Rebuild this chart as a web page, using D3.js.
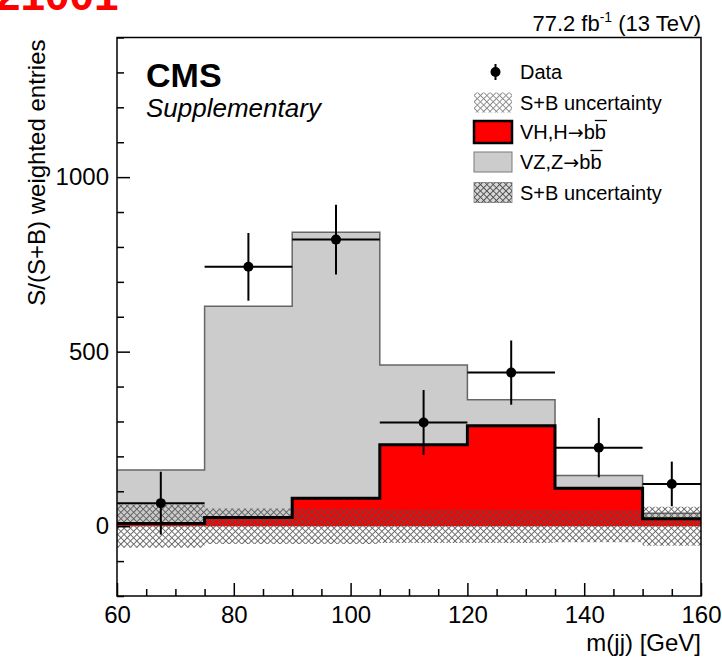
<!DOCTYPE html>
<html>
<head>
<meta charset="utf-8">
<script src="https://cdn.jsdelivr.net/npm/d3@7"></script>
<style>
  html, body { margin: 0; padding: 0; background: #fff; }
  svg { display: block; font-family: "Liberation Sans", Arial, Helvetica, sans-serif; }
</style>
</head>
<body>
<svg id="chart" width="722" height="660"></svg>
<script>
// ---- data ----
const binEdges   = [60, 75, 90, 105, 120, 135, 150, 160];
const dataValues = [66, 743, 821, 297, 440, 225, 121];
const dataErrors = [90, 97, 100, 93, 92, 85, 64];
const vhValues   = [8, 25, 80, 233, 288, 109, 21];     // VH, H->bb (signal)
const vzValues   = [153, 605, 762, 229, 74, 36, 16];   // VZ, Z->bb stacked on VH
const uncValues  = [62, 51, 51, 48, 48, 46, 56];       // S+B uncertainty half-width around 0
const xTicks     = [60, 80, 100, 120, 140, 160];
const xMinorTicks = d3.range(60, 161, 5).filter(v => v % 20 !== 0);
const yTicks     = [0, 500, 1000];
const yMinorTicks = d3.range(-200, 1401, 100).filter(v => v % 500 !== 0);
const legendLabels = ["Data", "S+B uncertainty", ["VH,H", "b"], ["VZ,Z", "b"], "S+B uncertainty"];

// ---- layout ----
const svg = d3.select("#chart");
const L = 117, R = 701, T = 37.5, B = 596;
const x = d3.scaleLinear().domain([60, 160]).range([L, R]);
const y = d3.scaleLinear().domain([-200, 1400]).range([B, T]);

const defs = svg.append("defs");
defs.append("clipPath").attr("id", "plotclip")
  .append("rect").attr("x", L).attr("y", T).attr("width", R - L).attr("height", B - T);

function hatch(id, color, width) {
  const s = 4.5;
  const p = defs.append("pattern").attr("id", id)
    .attr("patternUnits", "userSpaceOnUse")
    .attr("width", s).attr("height", s)
    .attr("patternTransform", "rotate(45)");
  p.append("path").attr("d", `M0,${s / 2} H${s} M${s / 2},0 V${s}`)
    .attr("stroke", color).attr("stroke-width", width).attr("fill", "none");
}
hatch("hatchDark", "#505050", 1.0);
hatch("hatchLight", "#8c8c8c", 1.0);

// step points helper
function stepPoints(vals) {
  const pts = [];
  vals.forEach((v, i) => { pts.push({e: binEdges[i], v}); pts.push({e: binEdges[i + 1], v}); });
  return pts;
}
const totals = vhValues.map((v, i) => v + vzValues[i]);

const plot = svg.append("g").attr("clip-path", "url(#plotclip)");

// VZ (stacked total) gray
plot.append("path")
  .datum(stepPoints(totals))
  .attr("d", d3.area().x(d => x(d.e)).y0(y(0)).y1(d => y(d.v)))
  .attr("fill", "#cccccc");
plot.append("path")
  .datum(stepPoints(totals))
  .attr("d", d3.line().x(d => x(d.e)).y(d => y(d.v)))
  .attr("fill", "none").attr("stroke", "#666").attr("stroke-width", 1.5);

// VH red
plot.append("path")
  .datum(stepPoints(vhValues))
  .attr("d", d3.area().x(d => x(d.e)).y0(y(0)).y1(d => y(d.v)))
  .attr("fill", "#ff0000");

// uncertainty band around 0
plot.append("path")
  .datum(stepPoints(uncValues))
  .attr("d", d3.area().x(d => x(d.e)).y0(d => y(-d.v)).y1(d => y(d.v)))
  .attr("fill", "url(#hatchDark)").attr("opacity", 0.85);

// VH outline (thick black)
plot.append("path")
  .datum(stepPoints(vhValues))
  .attr("d", d3.line().x(d => x(d.e)).y(d => y(d.v)))
  .attr("fill", "none").attr("stroke", "#000").attr("stroke-width", 3);

// data points
const dg = plot.append("g");
dataValues.forEach((v, i) => {
  const g = dg.append("g");
  const cx = x((binEdges[i] + binEdges[i + 1]) / 2);
  g.append("line")
    .attr("x1", x(binEdges[i])).attr("x2", x(binEdges[i + 1]))
    .attr("y1", y(v)).attr("y2", y(v))
    .attr("stroke", "#000").attr("stroke-width", 2);
  g.append("line")
    .attr("x1", cx).attr("x2", cx)
    .attr("y1", y(v - dataErrors[i])).attr("y2", y(v + dataErrors[i]))
    .attr("stroke", "#000").attr("stroke-width", 2);
  g.append("circle").attr("cx", cx).attr("cy", y(v)).attr("r", 5).attr("fill", "#000");
});

// ---- axes ----
const xAxis = svg.append("g").attr("transform", `translate(0,${B})`)
  .call(d3.axisBottom(x).tickValues(xTicks).tickSizeInner(-13).tickSizeOuter(0).tickPadding(10).tickFormat(d3.format("d")));
const xMinor = svg.append("g").attr("transform", `translate(0,${B})`)
  .call(d3.axisBottom(x).tickValues(xMinorTicks).tickSizeInner(-7).tickSizeOuter(0).tickFormat(""));
const yAxis = svg.append("g").attr("transform", `translate(${L},0)`)
  .call(d3.axisLeft(y).tickValues(yTicks).tickSizeInner(-13).tickSizeOuter(0).tickPadding(8).tickFormat(d3.format("d")));
const yMinor = svg.append("g").attr("transform", `translate(${L},0)`)
  .call(d3.axisLeft(y).tickValues(yMinorTicks).tickSizeInner(-7).tickSizeOuter(0).tickFormat(""));
[xAxis, xMinor, yAxis, yMinor].forEach(a => {
  a.select(".domain").remove();
  a.selectAll(".tick line").attr("stroke", "#000").attr("stroke-width", 1.5);
  a.selectAll(".tick text").attr("font-size", 24).attr("fill", "#000")
    .attr("font-family", "'Liberation Sans', Arial, Helvetica, sans-serif");
});

// frame
svg.append("rect").attr("x", L).attr("y", T).attr("width", R - L).attr("height", B - T)
  .attr("fill", "none").attr("stroke", "#000").attr("stroke-width", 1.5);

// axis titles
svg.append("text").attr("x", R).attr("y", 651).attr("text-anchor", "end")
  .attr("font-size", 24).text("m(jj) [GeV]");
svg.append("text").attr("transform", `translate(45,${T + 2}) rotate(-90)`)
  .attr("text-anchor", "end").attr("font-size", 24).text("S/(S+B) weighted entries");

// top right lumi text
const lumi = svg.append("text").attr("x", R).attr("y", 31).attr("text-anchor", "end").attr("font-size", 22);
lumi.append("tspan").text("77.2 fb");
lumi.append("tspan").attr("font-size", 14).attr("dy", -9).text("-1");
lumi.append("tspan").attr("dy", 9).text(" (13 TeV)");

// red label at top-left, mostly above the page edge as in the reference
svg.append("text").attr("x", -4).attr("y", 10).attr("font-size", 44).attr("font-weight", "bold")
  .attr("fill", "#ff0000").text("21001");

// CMS label
svg.append("text").attr("x", 146).attr("y", 87).attr("font-size", 34).attr("font-weight", "bold").text("CMS");
svg.append("text").attr("x", 146).attr("y", 117).attr("font-size", 26).attr("font-style", "italic").text("Supplementary");

// ---- legend ----
const leg = svg.append("g");
const rowY = [72, 102.5, 132, 162, 192.5];
const bx = 474, bw = 38, bh = 20, tx = 520;
// Data
leg.append("line").attr("x1", 495.5).attr("x2", 495.5).attr("y1", rowY[0] - 8).attr("y2", rowY[0] + 8)
  .attr("stroke", "#000").attr("stroke-width", 2);
leg.append("circle").attr("cx", 495.5).attr("cy", rowY[0]).attr("r", 5).attr("fill", "#000");
// light hatch
leg.append("rect").attr("x", bx).attr("y", rowY[1] - bh / 2).attr("width", bw).attr("height", bh)
  .attr("fill", "url(#hatchLight)");
// red
leg.append("rect").attr("x", bx).attr("y", rowY[2] - 11).attr("width", bw).attr("height", 22)
  .attr("fill", "#ff0000").attr("stroke", "#000").attr("stroke-width", 2.5);
// gray
leg.append("rect").attr("x", bx).attr("y", rowY[3] - bh / 2).attr("width", bw).attr("height", bh)
  .attr("fill", "#cccccc").attr("stroke", "#7a7a7a").attr("stroke-width", 1);
// dark hatch on gray
leg.append("rect").attr("x", bx).attr("y", rowY[4] - bh / 2).attr("width", bw).attr("height", bh)
  .attr("fill", "#d9d9d9").attr("stroke", "#9a9a9a").attr("stroke-width", 1);
leg.append("rect").attr("x", bx).attr("y", rowY[4] - bh / 2).attr("width", bw).attr("height", bh)
  .attr("fill", "url(#hatchDark)");

legendLabels.forEach((lab, i) => {
  const t = leg.append("text").attr("x", tx).attr("y", rowY[i]).attr("dy", "0.35em")
    .attr("font-size", 20);
  if (Array.isArray(lab)) {
    t.append("tspan").text(lab[0]);
    t.append("tspan").attr("font-family", "'DejaVu Sans', sans-serif").attr("font-size", 19).text("\u2192");
    t.append("tspan").text(lab[1]);
    const base = t.node().getComputedTextLength();
    t.append("tspan").text("b");
    const full = t.node().getComputedTextLength();
    leg.append("line").attr("x1", tx + base).attr("x2", tx + full + 1)
      .attr("y1", rowY[i] - 11.5).attr("y2", rowY[i] - 11.5)
      .attr("stroke", "#000").attr("stroke-width", 1.3);
  } else {
    t.text(lab);
  }
});
</script>
</body>
</html>
